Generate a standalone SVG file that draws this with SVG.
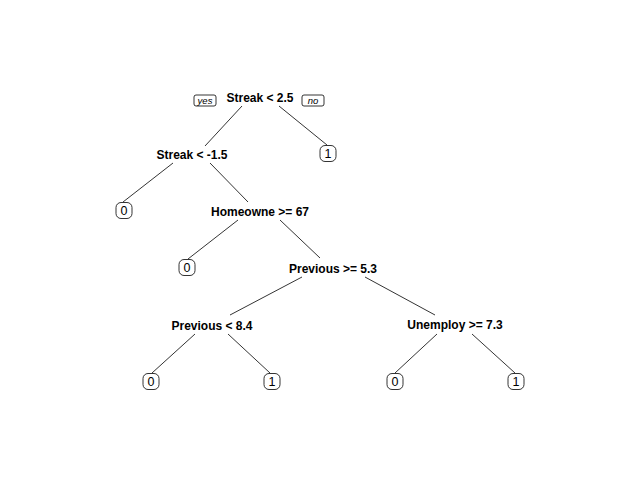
<svg xmlns="http://www.w3.org/2000/svg" width="640" height="480" viewBox="0 0 640 480">
<style>
.split{font-family:"Liberation Sans",Arial,sans-serif;font-size:12px;font-weight:bold;fill:#000;text-anchor:middle}
.leaf rect{fill:#fff;stroke:#000;stroke-width:0.8}
.leaf text{font-family:"Liberation Sans",Arial,sans-serif;font-size:12.5px;fill:#000;text-anchor:middle}
.lbl rect{fill:#fff;stroke:#000;stroke-width:0.8}
.lbl text{font-family:"Liberation Sans",Arial,sans-serif;font-size:9.5px;font-style:italic;fill:#000;text-anchor:middle}
.edges line{stroke:#000;stroke-width:0.8}
</style>
<rect width="640" height="480" fill="#fff"/>
<g id="connectors" class="edges">
<line x1="242" y1="106" x2="205" y2="146"/>
<line x1="279" y1="106" x2="327" y2="145"/>
<line x1="173" y1="163" x2="123" y2="202"/>
<line x1="210" y1="163" x2="248" y2="202"/>
<line x1="238" y1="220" x2="188" y2="259"/>
<line x1="280" y1="220" x2="320" y2="258"/>
<line x1="302" y1="277" x2="230" y2="315"/>
<line x1="365" y1="277" x2="435" y2="315"/>
<line x1="195" y1="334" x2="152" y2="373"/>
<line x1="228" y1="334" x2="270" y2="373"/>
<line x1="437" y1="334" x2="395" y2="373"/>
<line x1="472" y1="334" x2="515" y2="373"/>
</g>
<g id="root">
<text class="split" x="260" y="102">Streak &lt; 2.5</text>
</g>
<g id="yes-label" class="lbl">
<rect x="194" y="95" width="22" height="11" rx="2"/>
<text x="205" y="104">yes</text>
</g>
<g id="no-label" class="lbl">
<rect x="302" y="95" width="22" height="11" rx="2"/>
<text x="313" y="104">no</text>
</g>
<g id="n-streak15">
<text class="split" x="192" y="159">Streak &lt; -1.5</text>
</g>
<g id="leaf-r1" class="leaf">
<rect x="320" y="145.5" width="16" height="16" rx="5"/>
<text x="328" y="158">1</text>
</g>
<g id="leaf-a0" class="leaf">
<rect x="116" y="202.5" width="16" height="16" rx="5"/>
<text x="124" y="215">0</text>
</g>
<g id="n-homeowne">
<text class="split" x="260" y="216">Homeowne &gt;= 67</text>
</g>
<g id="leaf-b0" class="leaf">
<rect x="179" y="259.5" width="16" height="16" rx="5"/>
<text x="187" y="272">0</text>
</g>
<g id="n-previous53">
<text class="split" x="333" y="273">Previous &gt;= 5.3</text>
</g>
<g id="n-previous84">
<text class="split" x="212" y="330">Previous &lt; 8.4</text>
</g>
<g id="n-unemploy">
<text class="split" x="455" y="329">Unemploy &gt;= 7.3</text>
</g>
<g id="leaf-c0" class="leaf">
<rect x="143" y="373.5" width="16" height="16" rx="5"/>
<text x="151" y="386">0</text>
</g>
<g id="leaf-c1" class="leaf">
<rect x="264" y="373.5" width="16" height="16" rx="5"/>
<text x="272" y="386">1</text>
</g>
<g id="leaf-d0" class="leaf">
<rect x="387" y="373.5" width="16" height="16" rx="5"/>
<text x="395" y="386">0</text>
</g>
<g id="leaf-d1" class="leaf">
<rect x="508" y="373.5" width="16" height="16" rx="5"/>
<text x="516" y="386">1</text>
</g>
</svg>
